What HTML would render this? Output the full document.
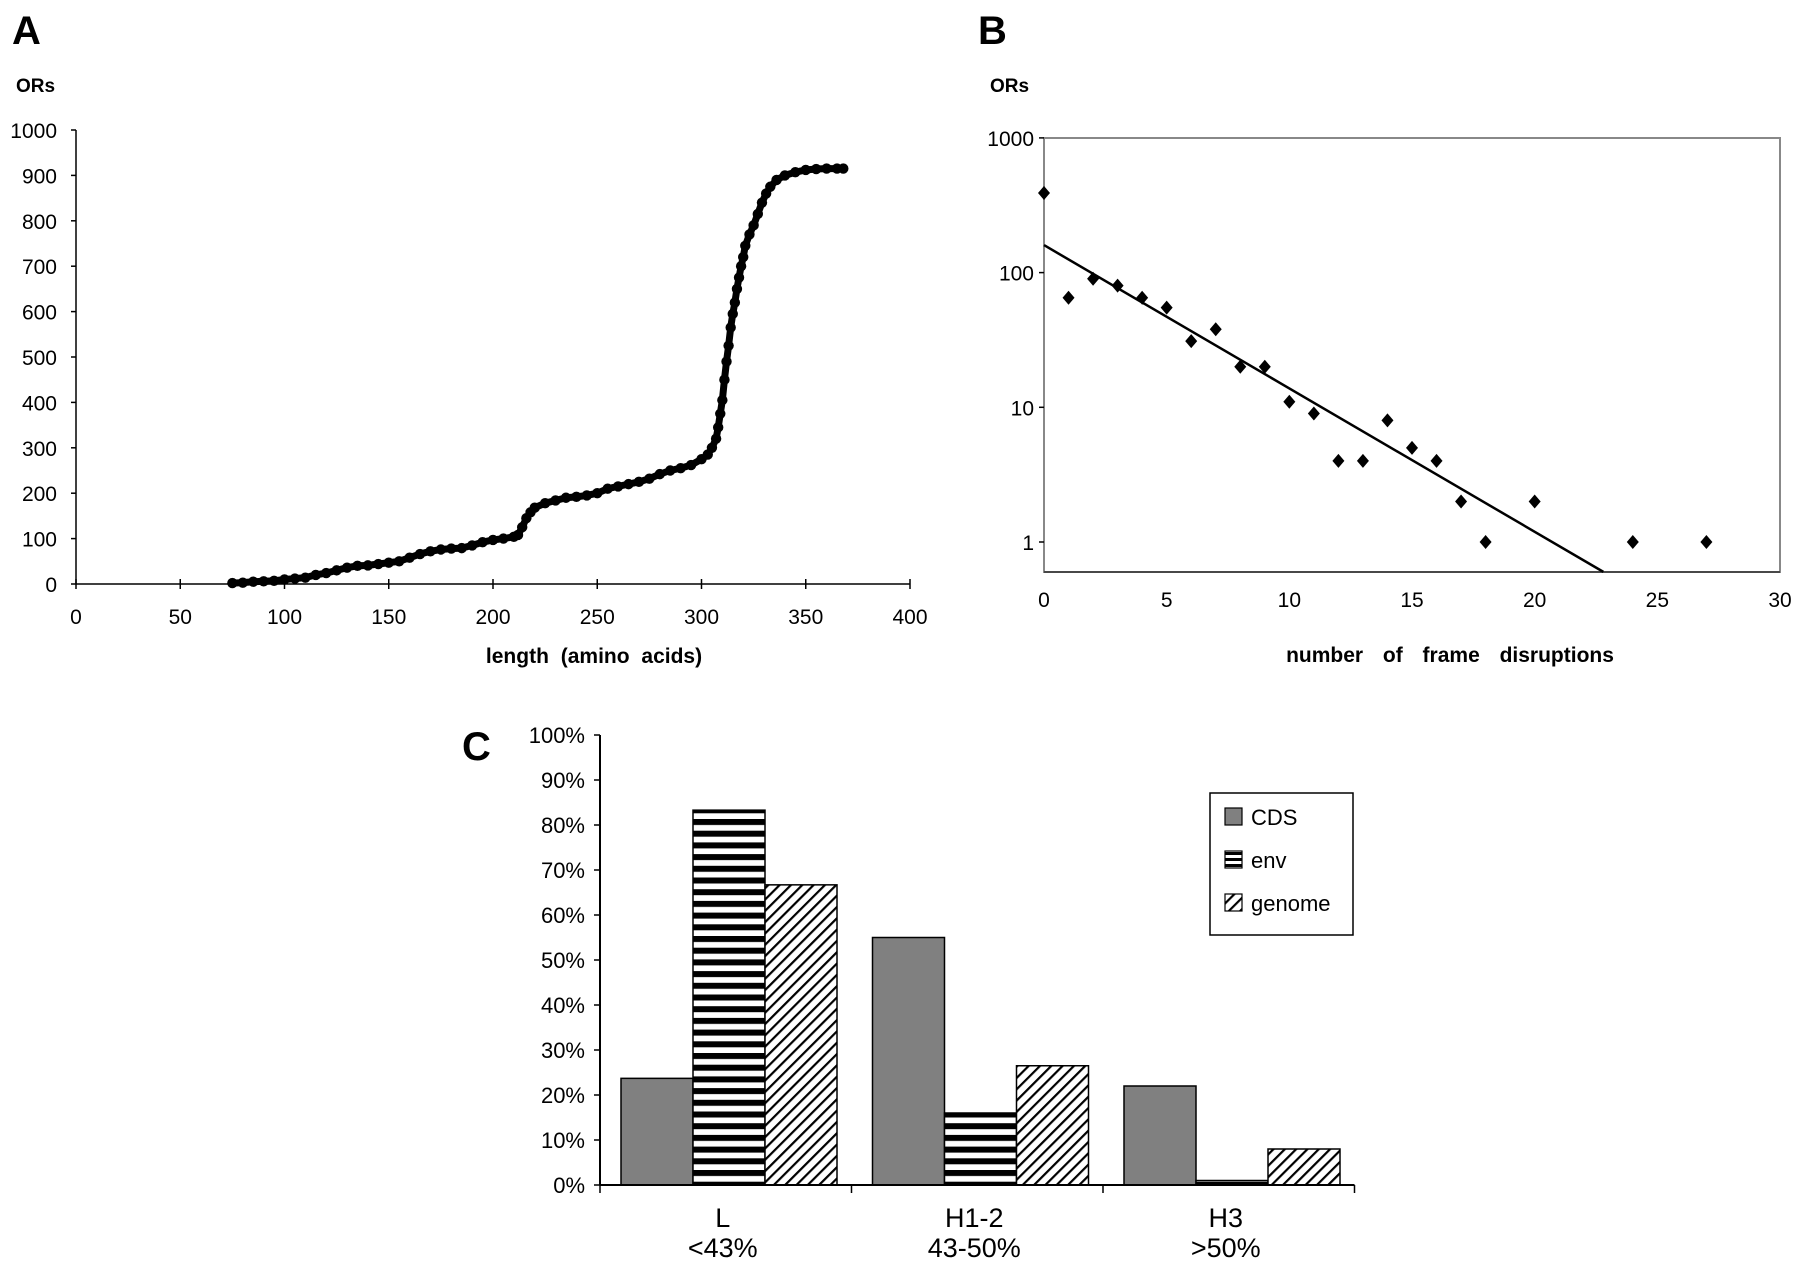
<!DOCTYPE html>
<html><head><meta charset="utf-8"><style>
html,body{margin:0;padding:0;background:#fff;}
svg{display:block;font-family:"Liberation Sans",Arial,sans-serif;}
</style></head><body>
<svg id="fig" width="1800" height="1267" viewBox="0 0 1800 1267" xmlns="http://www.w3.org/2000/svg">
<defs>
<pattern id="stripes" patternUnits="userSpaceOnUse" width="10" height="11.7"><rect width="10" height="11.7" fill="#fff"/><rect width="10" height="6" fill="#000"/></pattern>
<pattern id="hatch" patternUnits="userSpaceOnUse" width="8" height="8" patternTransform="rotate(45)"><rect width="8" height="8" fill="#fff"/><rect width="2.2" height="8" fill="#000"/></pattern>
<pattern id="lstripes" patternUnits="userSpaceOnUse" width="6" height="6"><rect width="6" height="6" fill="#fff"/><rect y="0" width="6" height="3" fill="#000"/></pattern>
</defs>
<g id="panelA"></g>
<g id="panelB"></g>
<g id="panelC"></g>
</svg>
<script>
// Panel A data (length, cumulative ORs)
const aLengths=[75,80,85,90,95,100,105,110,115,120,125,130,135,140,145,150,155,160,165,170,175,180,185,190,195,200,205,210,212,214,216,218,220,225,230,235,240,245,250,255,260,265,270,275,280,285,290,295,300,303,305,307,308,309,310,311,312,313,314,315,316,317,318,319,320,321,323,325,327,329,331,333,336,340,345,350,355,360,365,368];
const aCounts=[2,3,5,6,7,10,12,14,20,24,30,36,40,41,44,47,50,58,66,72,76,78,79,85,92,97,100,104,108,125,145,158,168,178,184,190,192,195,200,210,215,220,225,232,242,250,255,262,275,285,300,320,345,375,405,450,490,525,565,595,620,650,675,700,720,745,770,790,815,840,860,875,890,900,907,912,914,915,915,915];
const aXTicks=[0,50,100,150,200,250,300,350,400];
const aYTicks=[0,100,200,300,400,500,600,700,800,900,1000];
// Panel B data
const bX=[0,1,2,3,4,5,6,7,8,9,10,11,12,13,14,15,16,17,18,20,24,27];
const bY=[390,65,90,80,65,55,31,38,20,20,11,9,4,4,8,5,4,2,1,2,1,1];
const bFit=[[0,160],[22.8,0.6]];
const bXTicks=[0,5,10,15,20,25,30];
const bYTicks=[1,10,100,1000];
// Panel C data
const cCats=[["L","<43%"],["H1-2","43-50%"],["H3",">50%"]];
const cSeries=["CDS","env","genome"];
const cCDS=[23.7,55,22];
const cEnv=[83.3,16,1];
const cGenome=[66.7,26.5,8];
const cYTicks=[0,10,20,30,40,50,60,70,80,90,100];

const NS="http://www.w3.org/2000/svg";
function mk(parent,tag,attrs,text){const e=document.createElementNS(NS,tag);for(const k in attrs)e.setAttribute(k,attrs[k]);if(text!==undefined)e.textContent=text;parent.appendChild(e);return e;}

// ---- Panel A
const A=document.getElementById('panelA');
const ax=v=>76+v/400*(910-76), ay=v=>584-v/1000*(584-130);
let t=mk(A,'text',{x:12,y:44,'font-size':40,'font-weight':'bold'},'A');

t=mk(A,'text',{x:16,y:92,'font-size':19,'font-weight':'bold'},'ORs');

let l=mk(A,'line',{x1:ax(0),y1:ay(0),x2:ax(400),y2:ay(0),stroke:'#000','stroke-width':1.5});

l=mk(A,'line',{x1:ax(0),y1:ay(0),x2:ax(0),y2:ay(1000),stroke:'#000','stroke-width':1.5});

aXTicks.forEach(v=>{mk(A,'line',{x1:ax(v),y1:ay(0)-5,x2:ax(v),y2:ay(0)+5,stroke:'#000','stroke-width':1.5});
 const e=mk(A,'text',{x:ax(v),y:624,'font-size':21,'text-anchor':'middle'},v);
 });
aYTicks.forEach(v=>{mk(A,'line',{x1:ax(0)-5,y1:ay(v),x2:ax(0),y2:ay(v),stroke:'#000','stroke-width':1.5});
 const e=mk(A,'text',{x:57,y:ay(v)+8,'font-size':21,'text-anchor':'end'},v);
 });
t=mk(A,'text',{x:594,y:663,'font-size':21,'font-weight':'bold','text-anchor':'middle','word-spacing':'6'},'length  (amino  acids)');

const pl=mk(A,'polyline',{points:aLengths.map((x,i)=>ax(x)+','+ay(aCounts[i])).join(' '),fill:'none',stroke:'#000','stroke-width':7,'stroke-linecap':'round','stroke-linejoin':'round'});

aLengths.forEach((x,i)=>{const c=mk(A,'circle',{cx:ax(x),cy:ay(aCounts[i]),r:5.2,fill:'#000'});
 });

// ---- Panel B
const B=document.getElementById('panelB');
const bx=v=>1044+v/30*(1780-1044);
const by=v=>542-Math.log10(v)*134.7;
t=mk(B,'text',{x:978,y:44,'font-size':40,'font-weight':'bold'},'B');

t=mk(B,'text',{x:990,y:92,'font-size':19,'font-weight':'bold'},'ORs');

const box=mk(B,'rect',{x:1044,y:138,width:736,height:434,fill:'none',stroke:'#888','stroke-width':2});

l=mk(B,'line',{x1:1044,y1:572,x2:1780,y2:572,stroke:'#333','stroke-width':1.5});

bXTicks.forEach(v=>{const e=mk(B,'text',{x:bx(v),y:607,'font-size':21,'text-anchor':'middle'},v);
 });
bYTicks.forEach(v=>{mk(B,'line',{x1:1039,y1:by(v),x2:1044,y2:by(v),stroke:'#000','stroke-width':1.5});
 const e=mk(B,'text',{x:1034,y:by(v)+8,'font-size':21,'text-anchor':'end'},v);
 });
t=mk(B,'text',{x:1450,y:662,'font-size':21,'font-weight':'bold','text-anchor':'middle','word-spacing':'14'},'number  of  frame  disruptions');

const fit=mk(B,'line',{x1:bx(bFit[0][0]),y1:by(bFit[0][1]),x2:bx(bFit[1][0]),y2:by(bFit[1][1]),stroke:'#000','stroke-width':2.5});

bX.forEach((x,i)=>{const cx=bx(x),cy=by(bY[i]);
 const p=mk(B,'polygon',{points:`${cx},${cy-7} ${cx+6},${cy} ${cx},${cy+7} ${cx-6},${cy}`,fill:'#000'});
 });

// ---- Panel C
const C=document.getElementById('panelC');
const cy0=1185, cyH=450, cx0=600, catW=251.5, barW=72, off=21;
const cyv=v=>cy0-v/100*cyH;
t=mk(C,'text',{x:462,y:760,'font-size':40,'font-weight':'bold'},'C');

const fills=['#808080','url(#stripes)','url(#hatch)'];
const vals=[cCDS,cEnv,cGenome];
cCats.forEach((c,ci)=>{vals.forEach((s,si)=>{const x=cx0+ci*catW+off+si*barW;
 const r=mk(C,'rect',{x:x,y:cyv(s[ci]),width:barW,height:cyH*s[ci]/100,fill:fills[si],stroke:'#000','stroke-width':1.5});
 });
 const e1=mk(C,'text',{x:cx0+ci*catW+catW/2-3,y:1227,'font-size':27,'text-anchor':'middle'},c[0]);
 
 const e2=mk(C,'text',{x:cx0+ci*catW+catW/2-3,y:1257,'font-size':27,'text-anchor':'middle'},c[1]);
 });
l=mk(C,'line',{x1:cx0,y1:cy0,x2:cx0+3*catW,y2:cy0,stroke:'#000','stroke-width':2});

l=mk(C,'line',{x1:cx0,y1:cy0,x2:cx0,y2:cyv(100),stroke:'#000','stroke-width':2});

[0,1,2,3].forEach(i=>mk(C,'line',{x1:cx0+i*catW,y1:cy0,x2:cx0+i*catW,y2:cy0+8,stroke:'#000','stroke-width':1.5}));
cYTicks.forEach(v=>{mk(C,'line',{x1:cx0-6,y1:cyv(v),x2:cx0,y2:cyv(v),stroke:'#000','stroke-width':1.5});
 const e=mk(C,'text',{x:585,y:cyv(v)+8,'font-size':22,'text-anchor':'end'},v+'%');
 });
const lg=mk(C,'g',{});

mk(lg,'rect',{x:1210,y:793,width:143,height:142,fill:'#fff',stroke:'#000','stroke-width':1.5});
const lf=['#808080','url(#lstripes)','url(#hatch)'];
cSeries.forEach((s,i)=>{const y=808+i*43;
 const sw=mk(lg,'rect',{x:1225,y:y,width:17,height:17,fill:lf[i],stroke:'#000','stroke-width':1.2});
 
 const e=mk(lg,'text',{x:1251,y:y+17,'font-size':22},s);
 });
</script>
</body></html>
